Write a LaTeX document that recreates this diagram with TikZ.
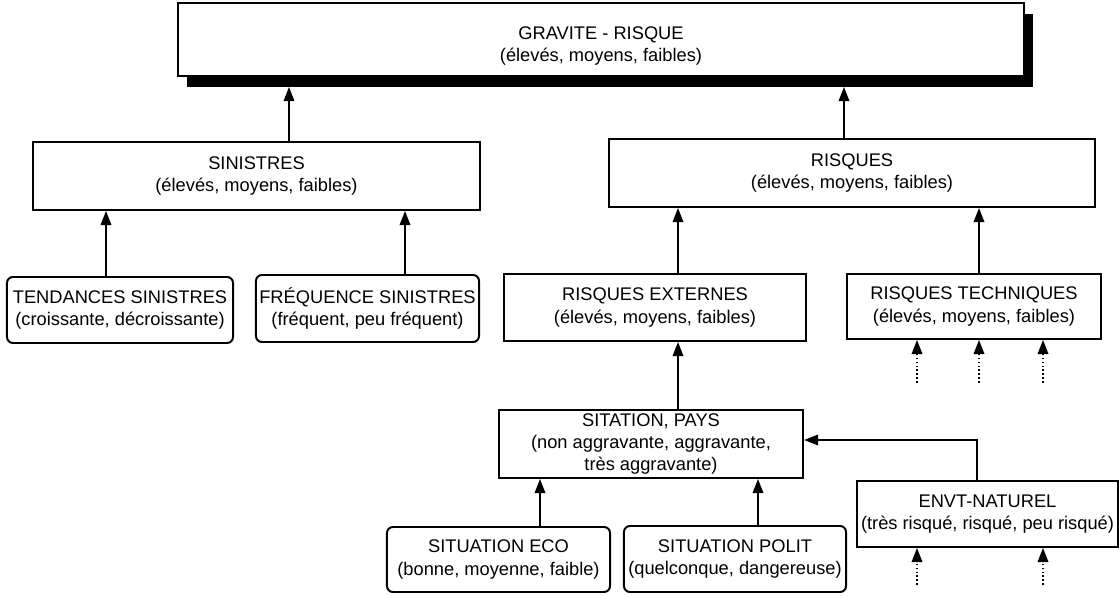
\documentclass[tikz,border=0pt]{standalone}
\usepackage{fontspec}
\setmainfont{Liberation Sans}
\usetikzlibrary{arrows.meta,shadows}

\begin{document}
\begin{tikzpicture}[x=0.025cm,y=-0.025cm,
	box/.style={draw, line width=1.4pt, fill=white, align=center, inner sep=0pt,
		font=\fontsize{13}{16}\selectfont},
	rbox/.style={box, rounded corners=0.15cm},
	arr/.style={line width=1.2pt, -{Triangle[width=7.5pt,length=10pt]}},
	dotarr/.style={arr, dash pattern=on 1.2pt off 1.6pt}]
				\useasboundingbox (0,0) rectangle (1119,596);
				%boxes
				\node[box, minimum width=21.15cm, minimum height=1.825cm,
					drop shadow={shadow xshift=0.23cm, shadow yshift=-0.27cm, fill=black, opacity=1}]
					(grav) at (601,39.5) {\\[2pt]GRAVITE - RISQUE\\(élevés, moyens, faibles)};
				\node[box, minimum width=11.175cm, minimum height=1.7cm] (sin) at (256.5,176)
					{SINISTRES\\(élevés, moyens, faibles)};
				\node[box, minimum width=12.15cm, minimum height=1.7cm] (ris) at (852,173)
					{RISQUES\\(élevés, moyens, faibles)};
				\node[rbox, minimum width=5.65cm, minimum height=1.65cm] (tend) at (120,310)
					{TENDANCES SINISTRES\\(croissante, décroissante)};
				\node[rbox, minimum width=5.575cm, minimum height=1.675cm] (freq) at (367.5,308.5)
					{FRÉQUENCE SINISTRES\\(fréquent, peu fréquent)};
				\node[box, minimum width=7.55cm, minimum height=1.675cm] (rext) at (655,307.5)
					{RISQUES EXTERNES\\(élevés, moyens, faibles)};
				\node[box, minimum width=6.35cm, minimum height=1.625cm] (rtech) at (974,306.5)
					{RISQUES TECHNIQUES\\(élevés, moyens, faibles)};
				\node[box, minimum width=7.6cm, minimum height=1.7cm,
					font=\fontsize{13}{15.5}\selectfont] (pays) at (651,444)
					{SITATION, PAYS\\(non aggravante, aggravante,\\très aggravante)};
				\node[rbox, minimum width=5.575cm, minimum height=1.625cm] (eco) at (498.5,559.5)
					{SITUATION ECO\\(bonne, moyenne, faible)};
				\node[rbox, minimum width=5.55cm, minimum height=1.65cm] (polit) at (735,559)
					{SITUATION POLIT\\(quelconque, dangereuse)};
				\node[box, minimum width=6.525cm, minimum height=1.65cm] (envt) at (987.5,514)
					{ENVT-NATUREL\\(très risqué, risqué, peu risqué)};
				%defs
				\coordinate (g1) at (289,87);
				\coordinate (g2) at (844,87);
				\coordinate (xa) at (106,0);
				\coordinate (xb) at (405,0);
				\coordinate (xc) at (678,0);
				\coordinate (xd) at (979,0);
				\coordinate (xe) at (540,0);
				\coordinate (xf) at (758,0);
				\coordinate (bend) at (977,440);
				%arrows
				\draw[arr] (sin.north -| g1) -- (g1);
				\draw[arr] (ris.north -| g2) -- (g2);
				\draw[arr] (tend.north -| xa) -- (sin.south -| xa);
				\draw[arr] (freq.north -| xb) -- (sin.south -| xb);
				\draw[arr] (rext.north -| xc) -- (ris.south -| xc);
				\draw[arr] (rtech.north -| xd) -- (ris.south -| xd);
				\draw[arr] (pays.north -| xc) -- (rext.south -| xc);
				\draw[arr] (eco.north -| xe) -- (pays.south -| xe);
				\draw[arr] (polit.north -| xf) -- (pays.south -| xf);
				\draw[arr] (envt.north -| bend) -- (bend) -- (bend -| pays.east);
				%dotted inputs
				\foreach \x [count=\i] in {917,979,1043} {
					\coordinate (t\i) at (\x,383);
					\draw[dotarr] (t\i) -- (t\i |- rtech.south);
				}
				\foreach \x [count=\i] in {917,1043} {
					\coordinate (n\i) at (\x,585);
					\draw[dotarr] (n\i) -- (n\i |- envt.south);
				}
			\end{tikzpicture}
\end{document}
